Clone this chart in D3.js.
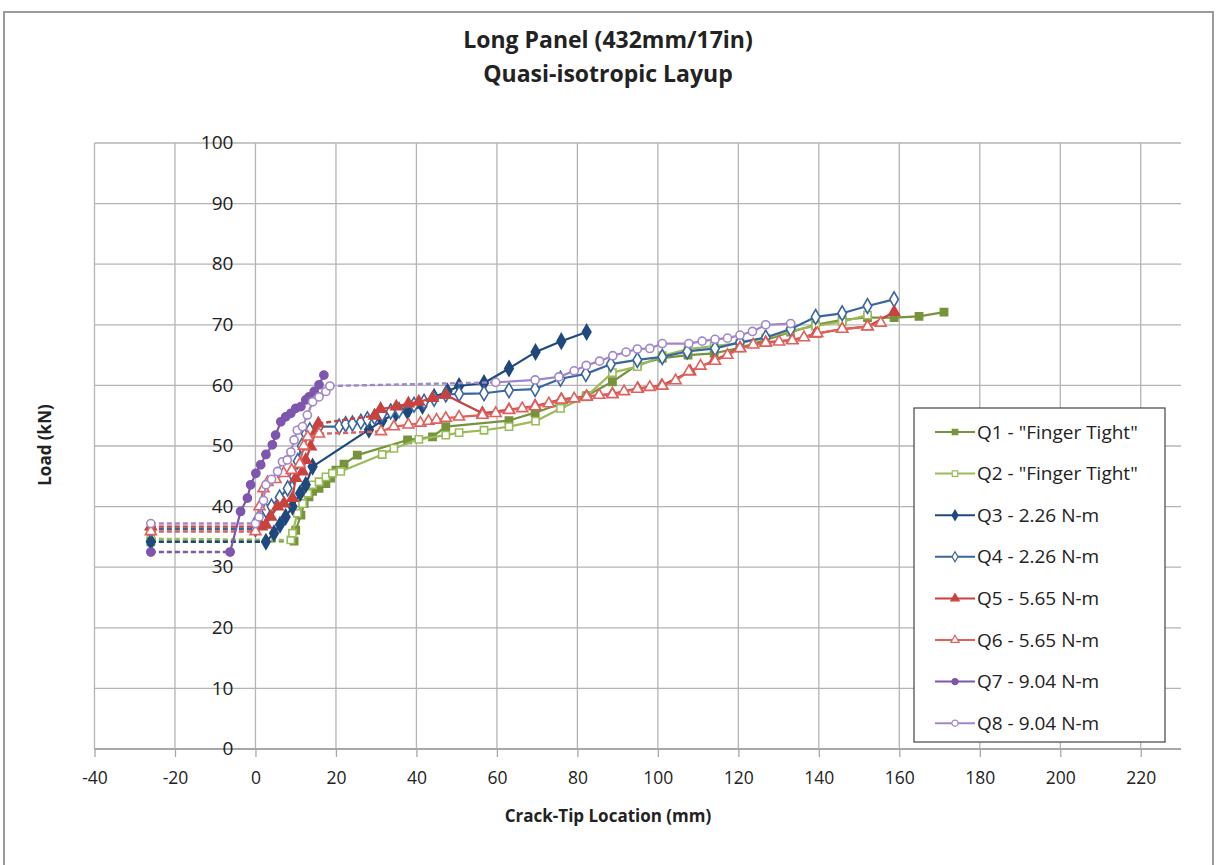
<!DOCTYPE html>
<html>
<head>
<meta charset="utf-8">
<script src="https://cdn.jsdelivr.net/npm/d3@7"></script>
<style>
  html, body { margin: 0; padding: 0; background: #fff; }
  svg { display: block; }
</style>
</head>
<body>
<svg id="chart" width="1216" height="865"></svg>
<script>
// Load vs. crack-tip location, eight bolt-torque specimens
const titleLines = ["Long Panel (432mm/17in)", "Quasi-isotropic Layup"];
const xTicks = [-40, -20, 0, 20, 40, 60, 80, 100, 120, 140, 160, 180, 200, 220];
const yTicks = [0, 10, 20, 30, 40, 50, 60, 70, 80, 90, 100];

const seriesNames = ["Q1 - \"Finger Tight\"", "Q2 - \"Finger Tight\"", "Q3 - 2.26 N-m", "Q4 - 2.26 N-m",
                     "Q5 - 5.65 N-m", "Q6 - 5.65 N-m", "Q7 - 9.04 N-m", "Q8 - 9.04 N-m"];

// [crack-tip location (mm), load (kN)]
const q1 = [[-26,34.2],[9.6,34.3],[10,36.1],[11.3,38.6],[12.1,40.5],[13.3,41.6],[14.2,42.5],[15.8,43],[17.5,43.8],
  [18.7,44.7],[20,46],[22,47],[25.3,48.5],[37.8,51],[44,51.5],[47.3,53.2],[63,54.2],[69.5,55.5],[76,57],[82.3,58.3],
  [88.7,60.6],[94.9,63.4],[101.1,64.5],[107.5,65],[114,65.3],[120.4,66.2],[126.8,67.5],[133,68.8],[139.2,70],
  [145.8,70.8],[152.1,71.2],[158.7,71.2],[164.9,71.4],[171.1,72.1]];
const q2 = [[-26,34.7],[8.8,34.5],[9.2,35.6],[10.4,38.9],[11.7,40.5],[13,42.2],[14.2,43.6],[15.8,44.1],[17.5,44.9],
  [19.1,45.5],[21.2,45.8],[31.5,48.6],[34.4,49.6],[40.6,51.1],[47.3,51.8],[50.6,52.2],[56.8,52.6],[63,53.2],
  [69.6,54.1],[75.8,56.2],[82.1,58.1],[88.7,62.1],[94.9,63.1],[101.1,64.9],[107.5,66],[114,66.5],[120.4,67],
  [126.8,67.8],[133,69],[139.2,69.8],[145.8,70.5],[152.1,71.6]];
const q3 = [[-26,34.2],[2.6,34.2],[4.6,35.6],[6.1,37.0],[7.5,38.3],[9.2,40.0],[11.1,42.2],[12.5,43.6],[14.2,46.6],
  [28.2,52.7],[31.5,54.2],[34.9,55.4],[37.8,55.7],[41.5,56.6],[44.4,58.1],[47.7,59.0],[50.6,59.9],[56.8,60.4],
  [63,62.8],[69.6,65.5],[76,67.3],[82.3,68.8]];
const q4 = [[-26,36.3],[0,36.3],[0.5,37.8],[2.6,39.4],[4,40],[6,41.5],[8,43],[9.5,45],[10.5,47.5],[11.5,50],
  [12.5,52],[13.5,52.6],[15.8,53.2],[20.8,53.2],[22.4,53.6],[24.1,53.7],[26.2,54.0],[27.8,54.4],[29.6,54.8],
  [31.5,55.3],[33.6,55.7],[35.7,55.9],[39.4,56.8],[41.9,57.3],[44.4,57.8],[47.3,58.5],[50.6,58.6],[56.8,58.7],
  [63,59.2],[69.5,59.4],[75.8,61.1],[82.1,61.9],[88.3,63.5],[94.9,64.2],[101.1,64.7],[107.3,65.6],[114.2,66.1],
  [120.4,67.1],[126.8,67.9],[133,69.3],[139.2,71.3],[145.8,71.9],[152.1,73.1],[158.7,74.2]];
const q5 = [[-26,36.7],[1.5,36.7],[2.6,37],[3.8,38.3],[5.5,40.0],[7.1,40.5],[9.2,41.4],[10,44.7],[11.7,45.8],
  [12.5,47.7],[13.7,49.9],[15,52.4],[15.6,53.7],[29.6,55],[31.1,56.1],[35,56.5],[38,57],[40.6,57.3],[44,57.9],
  [47.3,58.4],[56.4,55.4],[63,56],[69.5,56.6],[76,57.7],[82.3,58.2],[88.7,58.6],[95,59.5],[101,60],[108,62.3],
  [114,64.1],[120.4,66.2],[126.8,67.1],[133.4,67.5],[139.2,68.5],[145.8,69.3],[152.1,69.7],[158.7,72.1]];
const q6 = [[-26,35.9],[0,35.9],[1,40],[2,43],[3,44],[5,44.5],[7,45.5],[9,46],[11,47],[12,50],[13,51.5],[15.8,52],
  [31.2,52.4],[34.4,53.2],[38,53.5],[41,53.8],[43,54.1],[45,54.3],[47.3,54.6],[50.6,54.8],[56.4,55.1],[59.7,55.4],
  [63,55.9],[66.3,56.2],[69.5,56.5],[72.9,57.0],[76,57.6],[79.2,57.8],[82.3,58.1],[85.4,58.4],[88.7,58.5],
  [91.6,59.0],[94.9,59.4],[98,59.7],[101.1,59.9],[104.4,60.8],[107.7,62.3],[110.6,63.2],[114.2,64],[117.3,65],
  [120.4,66.1],[123.7,66.7],[126.8,67],[130.1,67.2],[133.4,67.4],[136.3,67.9],[139.6,68.6],[145.8,69.3],
  [152.1,69.7],[155.4,70.3]];
const q7 = [[-26,32.5],[-6.3,32.5],[-3.7,39.2],[-2,41.4],[-1.2,43.6],[0.1,45.5],[1.3,46.9],[2.6,48.6],[4.2,50.2],
  [5,51.8],[6.3,54],[7.5,54.8],[8.8,55.4],[10,56.2],[11.3,56.5],[12.5,57.6],[13.3,58.1],[14.6,59],[15.8,60.1],
  [17,61.7]];
const q8 = [[-26,37.2],[0,37.2],[0.9,38.3],[2,41],[2.6,43.6],[4,44.5],[5.5,45.8],[6.7,47.4],[7.9,47.7],[8.8,49],
  [9.6,51],[10.4,52.6],[11.7,53.2],[12.9,55.1],[14.2,57.3],[15.8,58.1],[17.5,59],[18.5,59.9],[59.7,60.5],
  [69.5,60.9],[75.4,61.4],[79.2,62.4],[82.2,63.3],[85.5,64.0],[88.8,64.9],[92.1,65.5],[94.9,66],[98,66.1],
  [101.1,66.9],[107.7,66.9],[111,67.3],[114.2,67.6],[117.3,67.8],[120.4,68.3],[123.5,68.9],[126.8,70],[133,70.2]];

// indices i whose segment to point i+1 is drawn dashed
const q1Dashed = [0], q2Dashed = [0], q3Dashed = [0], q4Dashed = [0];
const q5Dashed = [0, 12], q6Dashed = [0, 11], q7Dashed = [0], q8Dashed = [0, 17];

const seriesData = [q1, q2, q3, q4, q5, q6, q7, q8];
const seriesDashed = [q1Dashed, q2Dashed, q3Dashed, q4Dashed, q5Dashed, q6Dashed, q7Dashed, q8Dashed];
const seriesColors = ["#77933C", "#9BBB59", "#1F497D", "#3A66A0", "#C8423E", "#E0605C", "#7E56AE", "#A087CC"];
const seriesSymbols = [d3.symbolSquare, d3.symbolSquare, d3.symbolDiamond, d3.symbolDiamond,
                       d3.symbolTriangle, d3.symbolTriangle, d3.symbolCircle, d3.symbolCircle];
const seriesFilled = [true, false, true, false, true, false, true, false];
const symbolSizes = new Map([[d3.symbolSquare, 52], [d3.symbolDiamond, 64], [d3.symbolTriangle, 52], [d3.symbolCircle, 52]]);

const svg = d3.select("#chart");
const font = "'Open Sans', 'DejaVu Sans', sans-serif";

// outer chart frame
svg.append("rect").attr("x", 4).attr("y", 12).attr("width", 1209).attr("height", 870)
  .attr("fill", "#fff").attr("stroke", "#9a9a9a").attr("stroke-width", 2);

const x = d3.scaleLinear().domain([-40, 230]).range([94.5, 1181]);
const y = d3.scaleLinear().domain([0, 100]).range([749, 143]);

// gridlines
const grid = svg.append("g");
grid.selectAll("line.h").data(yTicks).join("line")
  .attr("x1", x(-40)).attr("x2", x(230)).attr("y1", d => y(d)).attr("y2", d => y(d))
  .attr("stroke", "#b4b4b4").attr("stroke-width", 1.3);
grid.selectAll("line.v").data(xTicks).join("line")
  .attr("x1", d => x(d)).attr("x2", d => x(d)).attr("y1", y(100)).attr("y2", y(0))
  .attr("stroke", "#b4b4b4").attr("stroke-width", 1.3);

// x axis along load = 0, tick marks pointing down
const xAxis = d3.axisBottom(x).tickValues(xTicks).tickSize(8).tickFormat(d3.format("d"));
const gx = svg.append("g").attr("transform", `translate(0,${y(0)})`).call(xAxis);
gx.select(".domain").attr("stroke", "#a8a8a8").attr("stroke-width", 2).attr("d", `M${x(-40)},0H${x(230)}`);
gx.selectAll(".tick line").attr("stroke", "#a8a8a8").attr("stroke-width", 1.3);
gx.selectAll(".tick text").attr("font-family", font).attr("font-size", 17.5).attr("fill", "#222")
  .attr("dy", 0).attr("y", 35).text(d => d < 0 ? "-" + Math.abs(d) : d);

// y axis labels sit left of the crack-tip origin line
const yAxis = d3.axisLeft(y).tickValues(yTicks).tickSize(0).tickPadding(22);
const gy = svg.append("g").attr("transform", `translate(${x(0)},0)`).call(yAxis);
gy.select(".domain").remove();
gy.selectAll(".tick text").attr("font-family", font).attr("font-size", 19).attr("fill", "#222").attr("dy", "0.3em");

// series
const line = d3.line().x(d => x(d[0])).y(d => y(d[1]));
const plot = svg.append("g");
seriesData.forEach((pts, si) => {
  const color = seriesColors[si];
  const dashed = new Set(seriesDashed[si]);
  const g = plot.append("g");
  // group consecutive segments of the same style into runs
  let runs = [], cur = null;
  for (let i = 0; i < pts.length - 1; i++) {
    const isDash = dashed.has(i);
    if (!cur || cur.dash !== isDash) { cur = { dash: isDash, pts: [pts[i]] }; runs.push(cur); }
    cur.pts.push(pts[i + 1]);
  }
  runs.forEach(r => {
    g.append("path").attr("d", line(r.pts)).attr("fill", "none").attr("stroke", color)
      .attr("stroke-width", r.dash ? 2.4 : 2.2).attr("stroke-dasharray", r.dash ? "5,3" : null)
      .attr("stroke-linejoin", "round");
  });
  const sym = d3.symbol().type(seriesSymbols[si]).size(symbolSizes.get(seriesSymbols[si]));
  g.selectAll("path.m").data(pts).join("path")
    .attr("transform", d => `translate(${x(d[0])},${y(d[1])})`)
    .attr("d", sym)
    .attr("fill", seriesFilled[si] ? color : "#fff")
    .attr("stroke", color).attr("stroke-width", 1.6);
});

// titles
svg.selectAll("text.title").data(titleLines).join("text")
  .attr("x", 608).attr("y", (d, i) => 48 + i * 34).attr("text-anchor", "middle")
  .attr("font-family", font).attr("font-weight", "bold").attr("font-size", 23).attr("fill", "#222")
  .text(d => d);
svg.append("text").attr("x", 608).attr("y", 822).attr("text-anchor", "middle")
  .attr("font-family", font).attr("font-weight", "bold").attr("font-size", 17).attr("fill", "#222")
  .text("Crack-Tip Location (mm)");
svg.append("text").attr("transform", "translate(51,445) rotate(-90)").attr("text-anchor", "middle")
  .attr("font-family", font).attr("font-weight", "bold").attr("font-size", 17).attr("fill", "#222")
  .text("Load (kN)");

// legend
const lg = svg.append("g");
lg.append("rect").attr("x", 914).attr("y", 408).attr("width", 251).attr("height", 334)
  .attr("fill", "#fff").attr("stroke", "#444").attr("stroke-width", 1.2);
seriesNames.forEach((name, si) => {
  const cy = 432 + si * 41.6;
  const color = seriesColors[si];
  lg.append("line").attr("x1", 935).attr("x2", 975).attr("y1", cy).attr("y2", cy)
    .attr("stroke", color).attr("stroke-width", 2);
  lg.append("path").attr("transform", `translate(955,${cy})`)
    .attr("d", d3.symbol().type(seriesSymbols[si]).size(30))
    .attr("fill", seriesFilled[si] ? color : "#fff").attr("stroke", color).attr("stroke-width", 1.2);
  lg.append("text").attr("x", 977).attr("y", cy).attr("dy", "0.35em")
    .attr("font-family", font).attr("font-size", 19).attr("fill", "#222").text(name);
});
</script>
</body>
</html>
